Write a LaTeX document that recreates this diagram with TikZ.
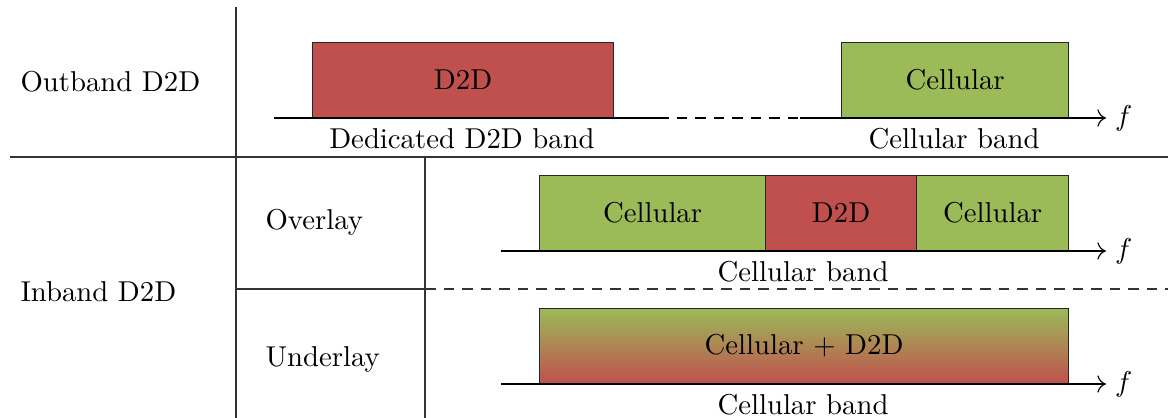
\documentclass[tikz,border=0pt]{standalone}
\usetikzlibrary{arrows.meta}
\definecolor{dred}{HTML}{C0504D}
\definecolor{dgreen}{HTML}{9BBB59}
\begin{document}
\begin{tikzpicture}[x=0.348pt,y=-0.348pt,
  band/.style={draw=black!85, line width=0.4pt, minimum height=75*0.348pt, inner sep=0pt, anchor=south west},
  grid/.style={draw=black!80, line width=0.4pt},
  axis/.style={draw=black, line width=0.4pt},
  lab/.style={inner sep=0pt, anchor=west}]
\useasboundingbox (0,0) rectangle (1168,418);
% table lines
\coordinate (v1t) at (236,7); \coordinate (v1b) at (236,418);
\coordinate (h1l) at (10,157); \coordinate (h1r) at (1168,157);
\coordinate (v2t) at (425,157); \coordinate (v2b) at (425,418);
\coordinate (h2l) at (236,289); \coordinate (h2m) at (425,289); \coordinate (h2r) at (1168,289);
\draw[grid] (v1t) -- (v1b);
\draw[grid] (h1l) -- (h1r);
\draw[grid] (v2t) -- (v2b);
\draw[grid] (h2l) -- (h2m);
\draw[grid, dash pattern=on 10.5*0.348pt off 8*0.348pt] (h2m) -- (h2r);
% row labels
\node[lab] (ob) at (20,82) {Outband D2D};
\node[lab] (ib) at (20,292) {Inband D2D};
\node[lab] (ov) at (265,222) {Overlay};
\node[lab] (ud) at (265,359) {Underlay};
% outband
\node[band, fill=dred, minimum width=301*0.348pt] (d2d1) at (312,118) {D2D};
\node[band, fill=dgreen, minimum width=227*0.348pt] (cel1) at (841,118) {Cellular};
\coordinate (a1s) at (274,118); \coordinate (a1m) at (658,118); \coordinate (a1n) at (800,118); \coordinate (a1e) at (1106,118);
\draw[axis] (a1s) -- (a1m);
\draw[axis, dash pattern=on 10.5*0.348pt off 8*0.348pt] (a1m) -- (a1n);
\draw[axis, -{To[length=3pt,width=6pt]}] (a1n) -- (a1e);
\node[anchor=west, inner sep=3pt] (f1) at (a1e) {$f$};
\node[anchor=north, inner sep=0pt] (l1) at (462,128) {Dedicated D2D band};
\node[anchor=north, inner sep=0pt] (l2) at (954,128) {Cellular band};
% overlay
\node[band, fill=dgreen, minimum width=226*0.348pt] (c2) at (539,251) {Cellular};
\node[band, fill=dred, minimum width=151*0.348pt] (d2) at (765,251) {D2D};
\node[band, fill=dgreen, minimum width=152*0.348pt] (c3) at (916,251) {Cellular};
\coordinate (a2s) at (501,251); \coordinate (a2e) at (1106,251);
\draw[axis, -{To[length=3pt,width=6pt]}] (a2s) -- (a2e);
\node[anchor=west, inner sep=3pt] (f2) at (a2e) {$f$};
\node[anchor=north, inner sep=0pt] (l3) at (803,261) {Cellular band};
% underlay
\node[band, top color=dgreen, bottom color=dred, minimum width=529*0.348pt] (cd) at (539,384) {Cellular + D2D};
\coordinate (a3s) at (501,384); \coordinate (a3e) at (1106,384);
\draw[axis, -{To[length=3pt,width=6pt]}] (a3s) -- (a3e);
\node[anchor=west, inner sep=3pt] (f3) at (a3e) {$f$};
\node[anchor=north, inner sep=0pt] (l4) at (803,394) {Cellular band};
\end{tikzpicture}
\end{document}
